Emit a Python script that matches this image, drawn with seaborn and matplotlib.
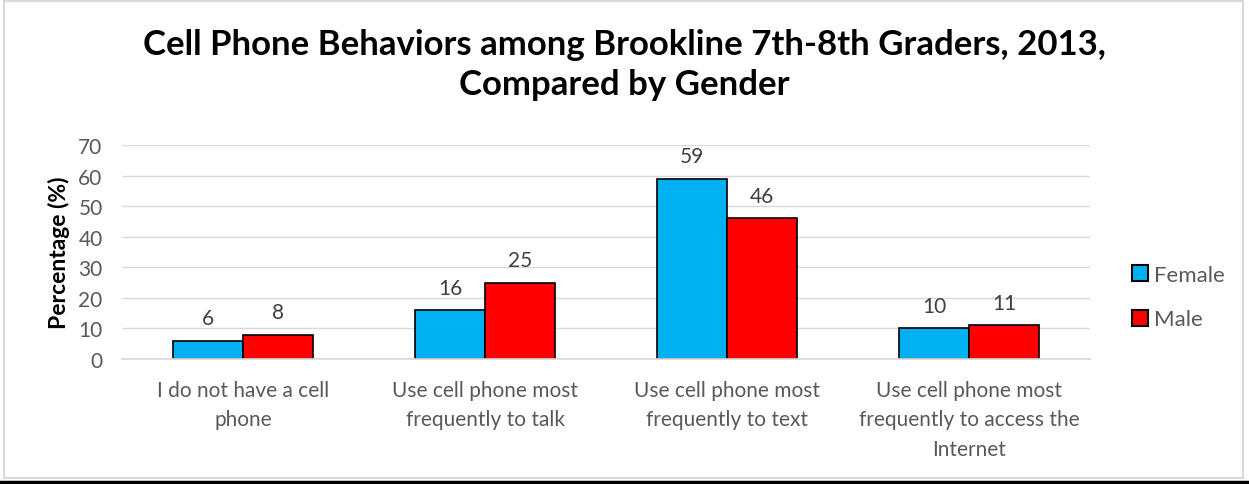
import matplotlib.pyplot as plt
import pandas as pd
import seaborn as sns
from matplotlib.lines import Line2D
from matplotlib.patches import Patch, Rectangle

categories = [
    "I do not have a cell\nphone",
    "Use cell phone most\nfrequently to talk",
    "Use cell phone most\nfrequently to text",
    "Use cell phone most\nfrequently to access the\nInternet",
]
female = [6, 16, 59, 10]
male = [8, 25, 46, 11]
genders = ["Female", "Male"]
colors = {"Female": "#00B0F0", "Male": "#FF0000"}
yticks = [0, 10, 20, 30, 40, 50, 60, 70]

df = pd.DataFrame({
    "Behavior": categories * 2,
    "Gender": ["Female"] * len(categories) + ["Male"] * len(categories),
    "Percent": female + male,
})

sns.set_theme(style="white")
plt.rcParams["font.family"] = ["Lato", "DejaVu Sans"]

fig = plt.figure(figsize=(12.49, 4.85), dpi=100)
ax = fig.add_axes([0.0977, 0.2577, 0.775, 0.4413])

sns.barplot(data=df, x="Behavior", y="Percent", hue="Gender", palette=colors,
            saturation=1, width=0.58, gap=0, edgecolor="black", linewidth=1.2,
            ax=ax, legend=False)

for cont in ax.containers:
    ax.bar_label(cont, padding=9, fontsize=15, color="#404040")

ax.set_ylim(0, 70)
ax.set_yticks(yticks)
ax.yaxis.grid(True, color="#D9D9D9", linewidth=1)
ax.set_axisbelow(True)
for s in ["top", "right", "left"]:
    ax.spines[s].set_visible(False)
ax.spines["bottom"].set_color("#D9D9D9")
ax.tick_params(axis="both", length=0, labelsize=15, colors="#595959")
ax.tick_params(axis="y", pad=14)
ax.tick_params(axis="x", pad=15)
for lbl in ax.get_xticklabels():
    lbl.set_linespacing(1.6)
ax.set_xlabel("")
ax.set_ylabel("Percentage (%)", fontsize=16.5, fontweight="bold", color="black", labelpad=6)

fig.suptitle("Cell Phone Behaviors among Brookline 7th-8th Graders, 2013,\nCompared by Gender",
             x=0.5, y=0.94, fontsize=25, fontweight="bold", color="black", linespacing=1.3)

handles = [Patch(facecolor=colors[g], edgecolor="black", linewidth=1.5, label=g) for g in genders]
fig.legend(handles=handles, loc="center left", bbox_to_anchor=(0.89, 0.385), frameon=False,
           fontsize=16, labelcolor="#595959", handlelength=0.75, handleheight=0.75,
           handletextpad=0.25, labelspacing=1.1)

fig.patches.append(Rectangle((0.003, 0.012), 0.992, 0.984, transform=fig.transFigure,
                             fill=False, edgecolor="#D9D9D9", linewidth=1.5))
fig.lines.append(Line2D([0, 1], [0.004, 0.004], transform=fig.transFigure,
                        color="black", linewidth=2.5))

fig.savefig("out.png", dpi=100)
